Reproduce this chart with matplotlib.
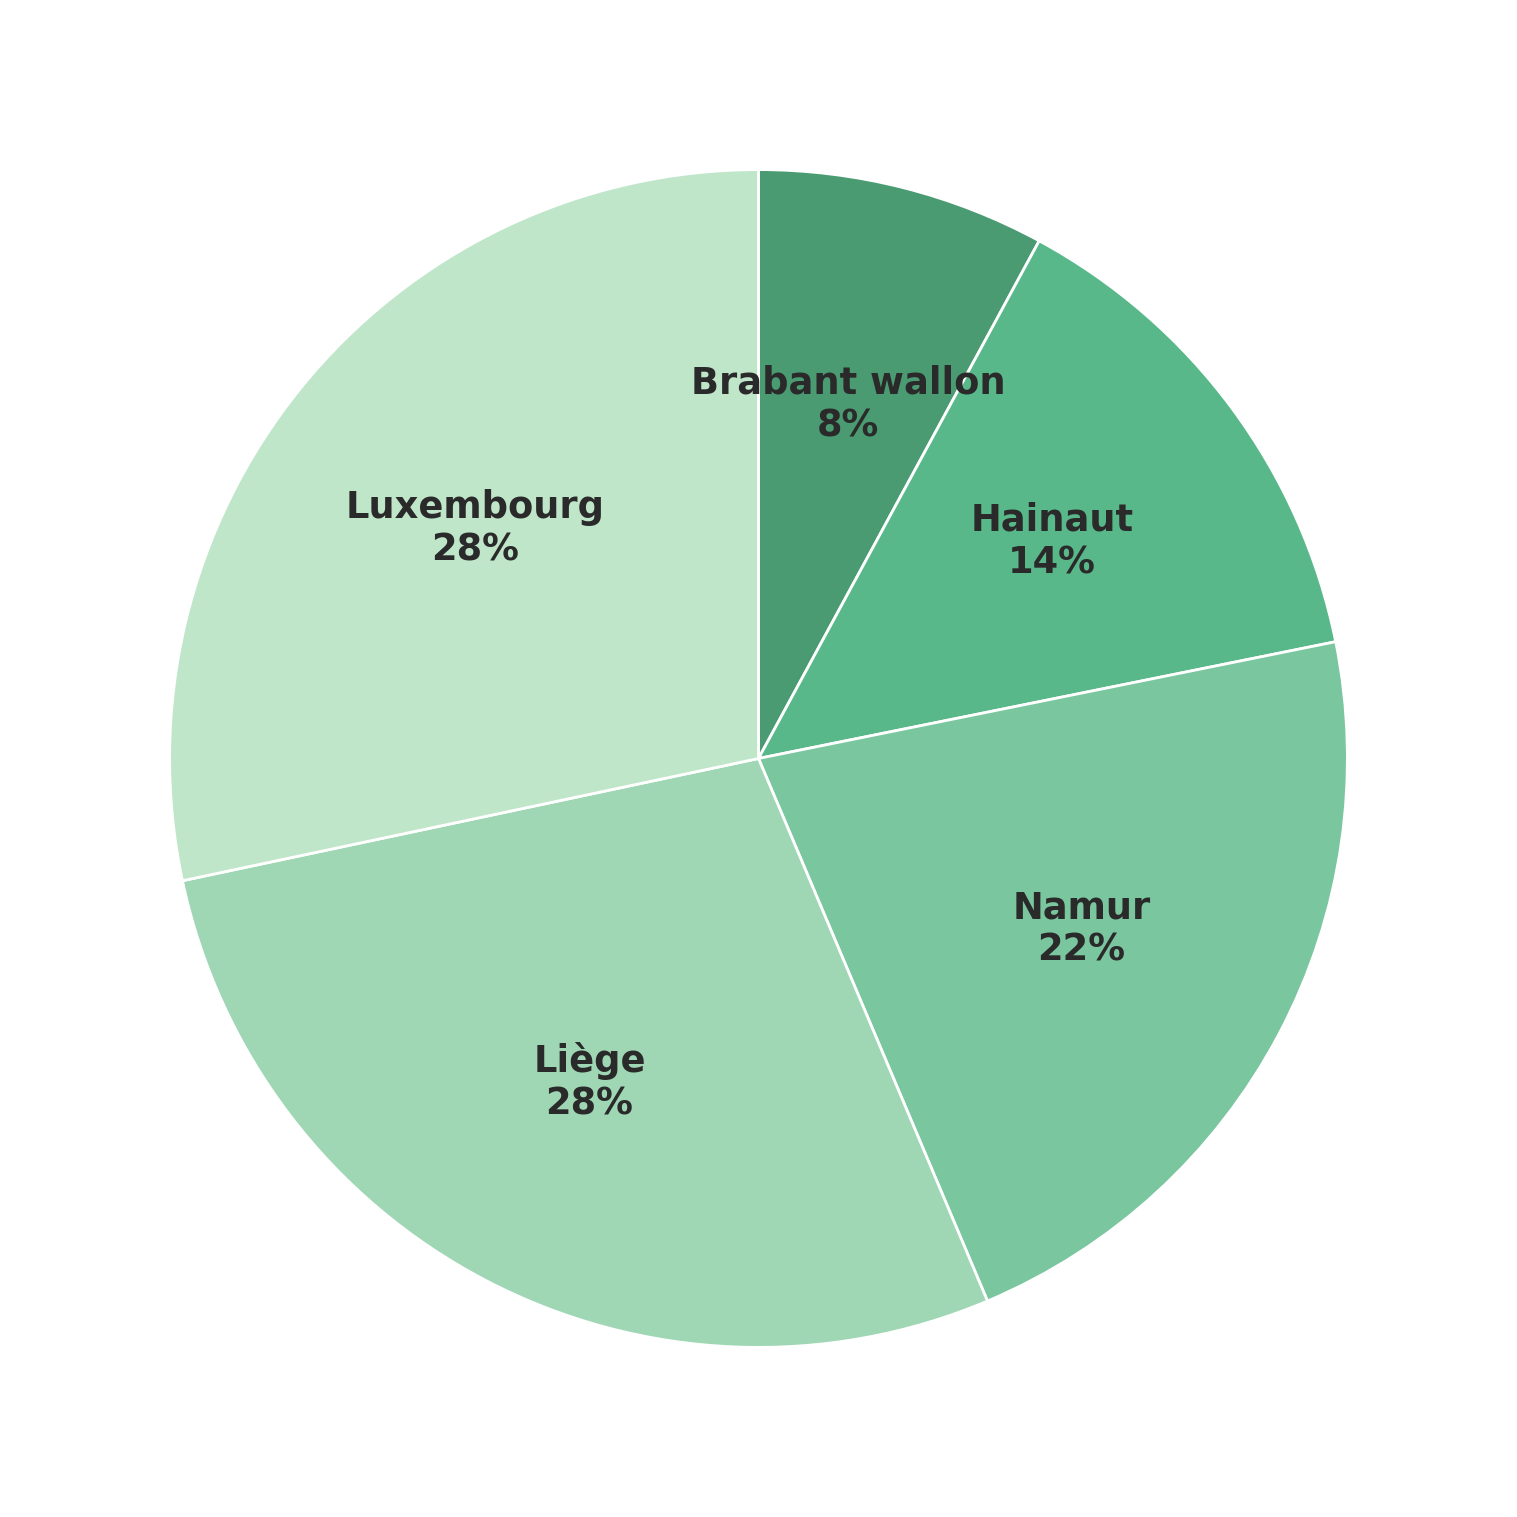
import matplotlib
matplotlib.use("Agg")
import matplotlib.pyplot as plt

# share of each province
provinces = ["Brabant wallon", "Hainaut", "Namur", "Liège", "Luxembourg"]
shares = [7.9, 13.9, 21.8, 28.0, 28.3]
colors = ["#4a9b72", "#59b88a", "#7ac69f", "#9fd7b5", "#c0e6ca"]

fig = plt.figure(figsize=(15.17, 15.17), dpi=100)
ax = fig.add_axes([0, 0, 1, 1])

names = iter(provinces)
def label(pct):
    return f"{next(names)}\n{pct:.0f}%"

wedges, texts, autotexts = ax.pie(
    shares,
    colors=colors,
    startangle=90,
    counterclock=False,
    autopct=label,
    pctdistance=0.62,
    wedgeprops=dict(edgecolor="white", linewidth=2),
    textprops=dict(fontsize=26.5, fontweight="bold", color="#2a2a2a"),
)
for t in autotexts:
    t.set_linespacing(1.2)

ax.set_xlim(-1.288, 1.288)
ax.set_ylim(-1.288, 1.288)
ax.set_aspect("equal")
ax.axis("off")

fig.savefig("out.png", dpi=100, facecolor="white")
